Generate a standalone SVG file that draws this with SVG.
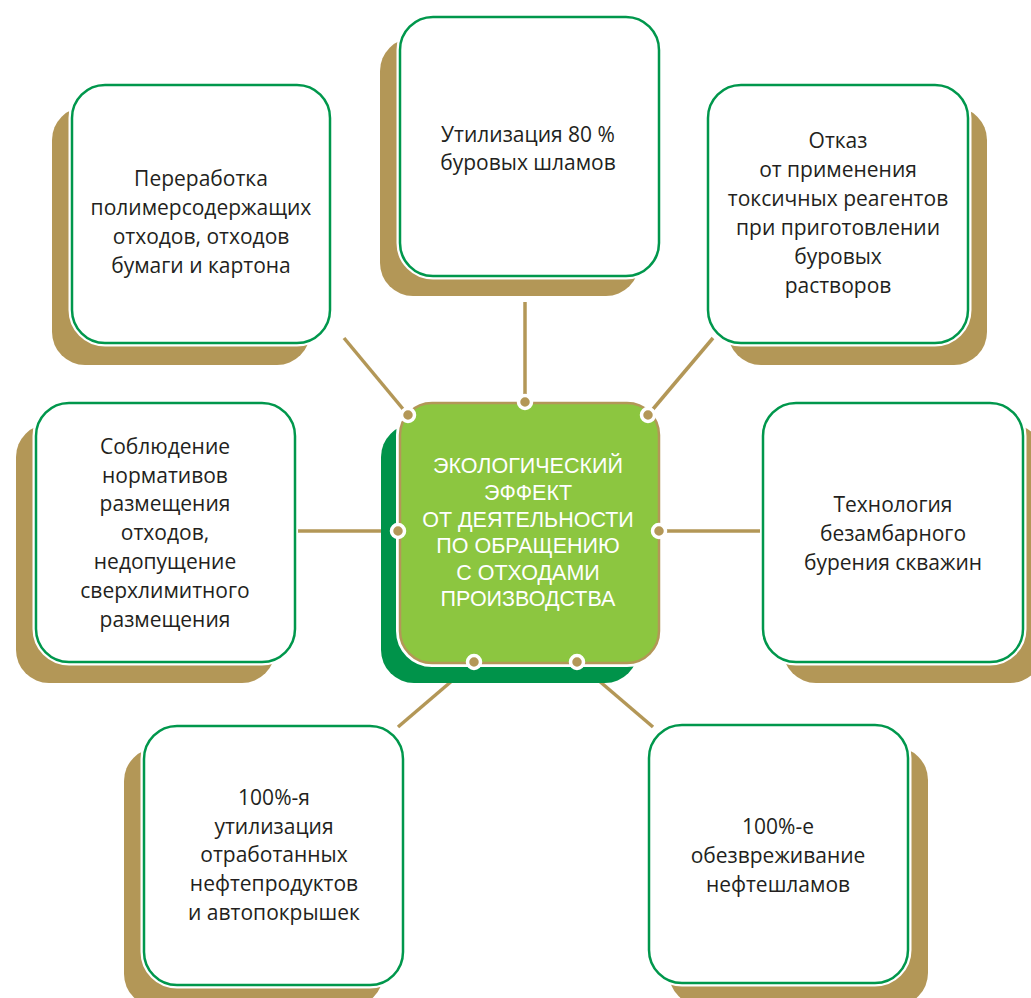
<svg xmlns="http://www.w3.org/2000/svg" width="1031" height="998" viewBox="0 0 1031 998">
<style>
.sh{fill:#B39757}
.halo{fill:#fff;stroke:#fff;stroke-width:7}
.box{fill:#fff;stroke:#00974C;stroke-width:2.5}
.t{font-family:"Open Sans","Noto Sans","Liberation Sans",sans-serif;font-size:21px;fill:#231F20;text-anchor:middle}
.ct{font-family:"Liberation Sans",Arial,sans-serif;font-size:21.5px;fill:#fff;text-anchor:middle}
.ln{stroke:#B39757;stroke-width:3.5;fill:none}
.dot{fill:#B39757;stroke:#fff;stroke-width:3.5}
</style>
<rect width="1031" height="998" fill="#fff"/>

<g id="n1">
<rect class="sh" x="52" y="107" width="258" height="258" rx="33"/>
<rect class="halo" x="72" y="85" width="258" height="258" rx="33"/>
<rect class="box" x="72" y="85" width="258" height="258" rx="33"/>
<text class="t" x="201" y="186">Переработка</text>
<text class="t" x="201" y="215">полимерсодержащих</text>
<text class="t" x="201" y="244">отходов, отходов</text>
<text class="t" x="201" y="273">бумаги и картона</text>
</g>

<g id="n2">
<rect class="sh" x="380" y="38" width="259" height="258" rx="33"/>
<rect class="halo" x="400" y="17" width="259" height="259" rx="33"/>
<rect class="box" x="400" y="17" width="259" height="259" rx="33"/>
<text class="t" x="528" y="142">Утилизация 80 %</text>
<text class="t" x="528" y="170">буровых шламов</text>
</g>

<g id="n3">
<rect class="sh" x="728" y="107" width="259" height="258" rx="33"/>
<rect class="halo" x="708" y="85" width="260" height="258" rx="33"/>
<rect class="box" x="708" y="85" width="260" height="258" rx="33"/>
<text class="t" x="838" y="148">Отказ</text>
<text class="t" x="838" y="177">от применения</text>
<text class="t" x="838" y="206">токсичных реагентов</text>
<text class="t" x="838" y="235">при приготовлении</text>
<text class="t" x="838" y="264">буровых</text>
<text class="t" x="838" y="293">растворов</text>
</g>

<g id="n4">
<rect class="sh" x="783" y="424" width="260" height="259" rx="33"/>
<rect class="halo" x="763" y="403" width="260" height="259" rx="33"/>
<rect class="box" x="763" y="403" width="260" height="259" rx="33"/>
<text class="t" x="893" y="512">Технология</text>
<text class="t" x="893" y="541">безамбарного</text>
<text class="t" x="893" y="570">бурения скважин</text>
</g>

<g id="n5">
<rect class="sh" x="124" y="748" width="259" height="259" rx="33"/>
<rect class="halo" x="144" y="726" width="259" height="259" rx="33"/>
<rect class="box" x="144" y="726" width="259" height="259" rx="33"/>
<text class="t" x="274" y="805">100%-я</text>
<text class="t" x="274" y="834">утилизация</text>
<text class="t" x="274" y="862">отработанных</text>
<text class="t" x="274" y="891">нефтепродуктов</text>
<text class="t" x="274" y="920">и автопокрышек</text>
</g>

<g id="n6">
<rect class="sh" x="669" y="747" width="259" height="259" rx="33"/>
<rect class="halo" x="649" y="725" width="259" height="258" rx="33"/>
<rect class="box" x="649" y="725" width="259" height="258" rx="33"/>
<text class="t" x="778" y="834">100%-е</text>
<text class="t" x="778" y="863">обезвреживание</text>
<text class="t" x="778" y="892">нефтешламов</text>
</g>

<g id="n7">
<rect class="sh" x="16" y="424" width="259" height="259" rx="33"/>
<rect class="halo" x="36" y="403" width="259" height="259" rx="33"/>
<rect class="box" x="36" y="403" width="259" height="259" rx="33"/>
<text class="t" x="165" y="454">Соблюдение</text>
<text class="t" x="165" y="483">нормативов</text>
<text class="t" x="165" y="511">размещения</text>
<text class="t" x="165" y="540">отходов,</text>
<text class="t" x="165" y="569">недопущение</text>
<text class="t" x="165" y="598">сверхлимитного</text>
<text class="t" x="165" y="627">размещения</text>
</g>

<g id="connectors">
<line class="ln" x1="344" y1="338" x2="408" y2="415"/>
<line class="ln" x1="525" y1="302" x2="525" y2="402"/>
<line class="ln" x1="713" y1="338" x2="648" y2="415"/>
<line class="ln" x1="298" y1="531" x2="398" y2="531"/>
<line class="ln" x1="659" y1="531" x2="760" y2="531"/>
<line class="ln" x1="474" y1="662" x2="398" y2="727"/>
<line class="ln" x1="577" y1="662" x2="653" y2="727"/>
</g>

<g id="center">
<rect x="381" y="424" width="257" height="259" rx="33" fill="#00934A"/>
<rect x="400" y="403" width="259" height="260" rx="32" fill="#8CC640" stroke="#fff" stroke-width="8"/>
<rect x="400" y="403" width="259" height="260" rx="32" fill="#8CC640" stroke="#B39757" stroke-width="2.5"/>
<text class="ct" x="528" y="473">ЭКОЛОГИЧЕСКИЙ</text>
<text class="ct" x="528" y="500">ЭФФЕКТ</text>
<text class="ct" x="528" y="527">ОТ ДЕЯТЕЛЬНОСТИ</text>
<text class="ct" x="528" y="553">ПО ОБРАЩЕНИЮ</text>
<text class="ct" x="528" y="580">С ОТХОДАМИ</text>
<text class="ct" x="528" y="606">ПРОИЗВОДСТВА</text>
</g>

<g id="dots">
<circle class="dot" cx="408" cy="415" r="6.5"/>
<circle class="dot" cx="525" cy="402" r="6.5"/>
<circle class="dot" cx="648" cy="415" r="6.5"/>
<circle class="dot" cx="398" cy="531" r="6.5"/>
<circle class="dot" cx="659" cy="531" r="6.5"/>
<circle class="dot" cx="474" cy="662" r="6.5"/>
<circle class="dot" cx="577" cy="662" r="6.5"/>
</g>
</svg>
